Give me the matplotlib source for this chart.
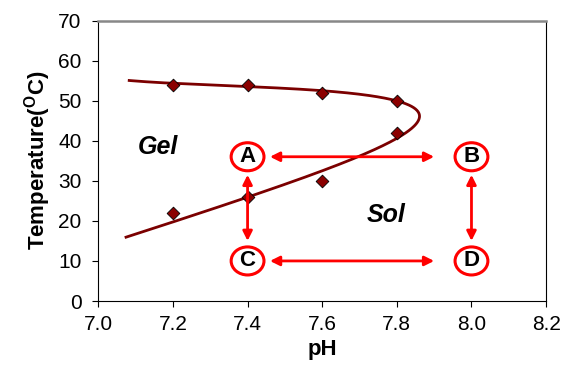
import numpy as np
import matplotlib.pyplot as plt
from matplotlib.patches import Ellipse

plt.rcParams['font.family'] = ['Liberation Sans', 'DejaVu Sans']

# measured points
ph_pts = [7.2, 7.4, 7.6, 7.8, 7.8, 7.2, 7.4, 7.6]
temp_pts = [54, 54, 52, 50, 42, 22, 26, 30]

# points (upper branch -> nose -> lower branch)
curve_temp = [55, 54.4, 53.6, 52.2, 50, 48.5, 46, 43.5, 41.5, 36, 32, 25.8, 20, 16]
curve_ph = [7.08, 7.2, 7.4, 7.6, 7.8, 7.85, 7.873, 7.85, 7.8, 7.683, 7.6, 7.4, 7.2, 7.08]

# state labels
state_names = ['A', 'B', 'C', 'D']
state_ph = [7.4, 8.0, 7.4, 8.0]
state_temp = [36, 36, 10, 10]

fig = plt.figure(figsize=(5.63, 3.73), dpi=100)
ax = fig.add_axes([0.1746, 0.193, 0.7954, 0.752])

# smooth fit of the boundary: work in a rotated screen-like frame where the
# curve is single valued, fit, rotate back
cx = np.array(curve_ph) * 373
cy = np.array(curve_temp) * 4
ang = np.deg2rad(-7.5)
u = cx * np.cos(ang) - cy * np.sin(ang)
v = cx * np.sin(ang) + cy * np.cos(ang)
coef = np.polyfit(v, u, 5)
vv = np.linspace(v.min(), v.max(), 400)
uu = np.polyval(coef, vv)
fx = uu * np.cos(-ang) - vv * np.sin(-ang)
fy = uu * np.sin(-ang) + vv * np.cos(-ang)
ax.plot(fx / 373, fy / 4, color='#7b0000', lw=2, zorder=2)
ax.scatter(ph_pts, temp_pts, marker='D', s=42, color='#8b0000', edgecolor='black', lw=0.6, zorder=3)

red = '#ff0000'
for name, x, y in zip(state_names, state_ph, state_temp):
    ax.add_patch(Ellipse((x, y), 0.088, 7.0, fill=False, edgecolor=red, lw=2.2, zorder=4))
    ax.text(x, y, name, ha='center', va='center', fontsize=16, fontweight='bold', zorder=5)

arrow = dict(arrowstyle='<|-|>', color=red, lw=2, mutation_scale=14, shrinkA=0, shrinkB=0)
ax.annotate('', xy=(7.9, 36), xytext=(7.46, 36), arrowprops=arrow)
ax.annotate('', xy=(7.9, 10), xytext=(7.46, 10), arrowprops=arrow)
ax.annotate('', xy=(7.4, 31.5), xytext=(7.4, 15), arrowprops=arrow)
ax.annotate('', xy=(8.0, 31.5), xytext=(8.0, 15), arrowprops=arrow)

ax.text(7.16, 38.5, 'Gel', fontsize=18, fontweight='bold', style='italic', ha='center', va='center')
ax.text(7.77, 21.5, 'Sol', fontsize=18, fontweight='bold', style='italic', ha='center', va='center')

ax.set_xlim(7.0, 8.2)
ax.set_ylim(0, 70)
ax.set_xticks(np.arange(7.0, 8.21, 0.2))
ax.set_xticklabels(['7.0', '7.2', '7.4', '7.6', '7.8', '8.0', '8.2'])
ax.set_yticks(range(0, 71, 10))
ax.tick_params(labelsize=15, direction='out', length=4, colors='black')
ax.tick_params(axis='y', pad=8)
ax.tick_params(axis='x', pad=6)
ax.spines['top'].set_color('#888888')
ax.spines['top'].set_linewidth(1.8)
ax.set_xlabel('pH', fontsize=16, fontweight='bold', labelpad=4)
ax.set_ylabel('Temperature($\\mathregular{^{O}}$C)', fontsize=16, fontweight='bold', labelpad=4)

plt.savefig('out.png', dpi=100)
plt.close()
